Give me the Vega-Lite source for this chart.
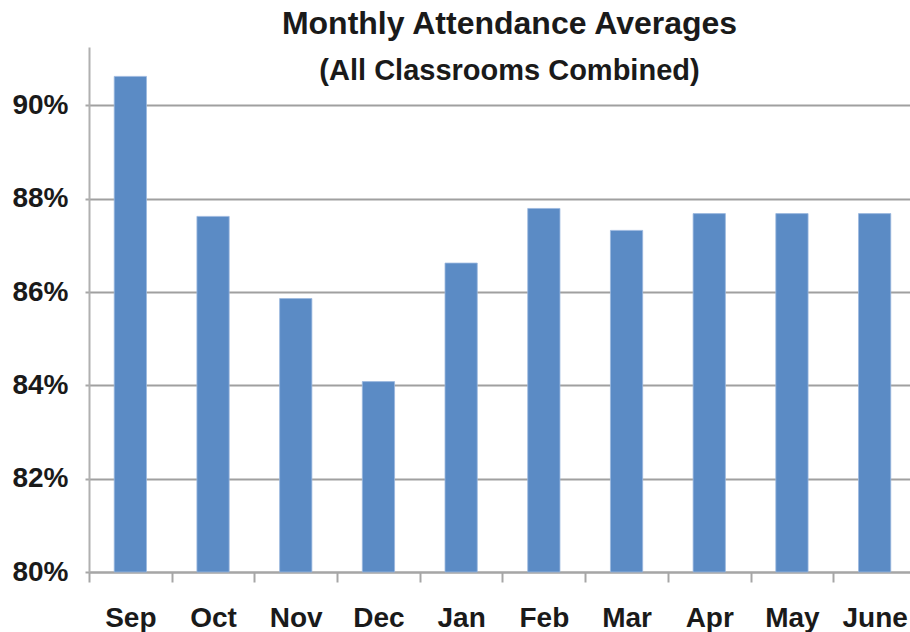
{
  "$schema": "https://vega.github.io/schema/vega-lite/v6.json",
  "autosize": {"type": "none"},
  "padding": {"left": 89, "top": 47, "right": 0, "bottom": 60},
  "width": 827,
  "height": 525,
  "background": "white",
  "title": {
    "text": "Monthly Attendance Averages",
    "subtitle": "(All Classrooms Combined)",
    "anchor": "middle",
    "frame": "group",
    "dx": 7,
    "offset": -40,
    "font": "Liberation Sans",
    "fontSize": 32,
    "fontWeight": "bold",
    "color": "#1a1a1a",
    "subtitleFont": "Liberation Sans",
    "subtitleFontSize": 29,
    "subtitleFontWeight": "bold",
    "subtitleColor": "#1a1a1a",
    "subtitlePadding": 16
  },
  "data": {
    "values": [
      {"month": "Sep", "rate": 90.62},
      {"month": "Oct", "rate": 87.62},
      {"month": "Nov", "rate": 85.86},
      {"month": "Dec", "rate": 84.08},
      {"month": "Jan", "rate": 86.62},
      {"month": "Feb", "rate": 87.79},
      {"month": "Mar", "rate": 87.32},
      {"month": "Apr", "rate": 87.68},
      {"month": "May", "rate": 87.68},
      {"month": "June", "rate": 87.68}
    ]
  },
  "mark": {"type": "bar", "color": "#5b8bc5", "stroke": "#9ab8de", "strokeWidth": 0.8},
  "encoding": {
    "x": {
      "field": "month",
      "type": "nominal",
      "sort": null,
      "scale": {"paddingInner": 0.61, "paddingOuter": 0.305},
      "axis": {
        "title": null,
        "labelAngle": 0,
        "tickOffset": -41.35,
        "labelOffset": 41.35,
        "grid": false,
        "domainColor": "#a6a6a6",
        "domainWidth": 2,
        "tickColor": "#a6a6a6",
        "tickWidth": 2,
        "tickSize": 10,
        "labelFont": "Liberation Sans",
        "labelFontSize": 28,
        "labelFontWeight": "bold",
        "labelColor": "#1a1a1a",
        "labelPadding": 22
      }
    },
    "y": {
      "field": "rate",
      "type": "quantitative",
      "scale": {"domain": [80, 91.25], "zero": false, "nice": false},
      "axis": {
        "title": null,
        "values": [80, 82, 84, 86, 88, 90],
        "labelExpr": "datum.value + '%'",
        "grid": true,
        "gridColor": "#a0a0a0",
        "gridWidth": 2,
        "domainColor": "#b0b0b0",
        "domainWidth": 2,
        "tickColor": "#a6a6a6",
        "tickWidth": 2,
        "tickSize": 4,
        "labelFont": "Liberation Sans",
        "labelFontSize": 28,
        "labelFontWeight": "bold",
        "labelColor": "#1a1a1a",
        "labelPadding": 17
      }
    },
    "y2": {"datum": 80}
  },
  "config": {"view": {"stroke": null}}
}
